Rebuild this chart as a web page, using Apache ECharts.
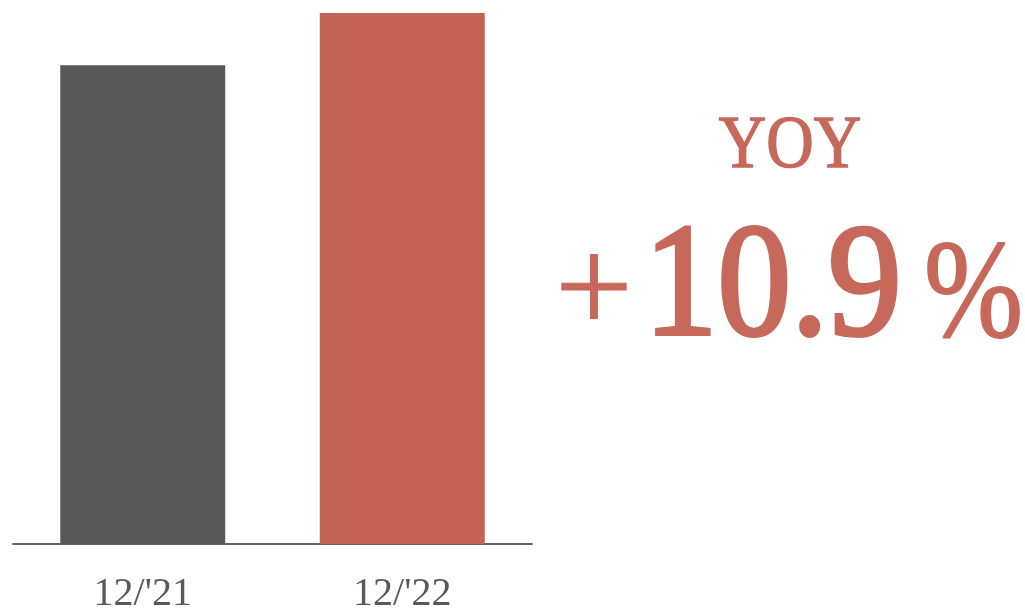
<!DOCTYPE html>
<html>
<head>
<meta charset="utf-8">
<script src="https://cdn.jsdelivr.net/npm/echarts@6/dist/echarts.min.js"></script>
<style>
html,body{margin:0;padding:0;background:#fff;}
#chart{width:1025px;height:608px;}
</style>
</head>
<body>
<div id="chart"></div>
<script>
const categories = ["12/'21", "12/'22"];
const values = [100, 110.9];
const barColors = ['#595959', '#c46455'];
const yoyLabel = 'YOY';
const yoySign = '+';
const yoyValue = '10.9';
const yoyUnit = '%';

const chart = echarts.init(document.getElementById('chart'), null, {renderer: 'canvas'});
const serif = '"Liberation Serif", "DejaVu Serif", serif';
const red = '#c6695b';
chart.setOption({
  animation: false,
  backgroundColor: '#ffffff',
  grid: {left: 13, right: 493, top: 13, bottom: 64, containLabel: false, outerBoundsMode: 'none'},
  xAxis: {
    type: 'category',
    data: categories,
    axisLine: {show: true, lineStyle: {color: '#666666', width: 2}},
    axisTick: {show: false},
    axisLabel: {color: '#595959', fontSize: 40, fontFamily: serif, margin: 30}
  },
  yAxis: {
    type: 'value', min: 0, max: values[1],
    show: false
  },
  series: [{
    type: 'bar',
    barWidth: 165,
    data: values.map((v, i) => ({value: v, itemStyle: {color: barColors[i]}}))
  }],
  graphic: [
    {type: 'text', x: 790, y: 111, scaleX: 0.9,
     style: {text: yoyLabel, font: '73px ' + serif, fill: red, stroke: red, lineWidth: 1.5, textAlign: 'center', textVerticalAlign: 'top'}},
    {type: 'text', x: 555, y: 227,
     style: {text: yoySign, font: '138px ' + serif, fill: red, stroke: red, lineWidth: 1, textAlign: 'left', textVerticalAlign: 'top'}},
    {type: 'text', x: 644, y: 212, scaleX: 0.92,
     style: {text: yoyValue, font: '160px ' + serif, fill: red, stroke: red, lineWidth: 4, textAlign: 'left', textVerticalAlign: 'top'}},
    {type: 'text', x: 924, y: 229, scaleX: 0.85,
     style: {text: yoyUnit, font: '140px ' + serif, fill: red, stroke: red, lineWidth: 2, textAlign: 'left', textVerticalAlign: 'top'}}
  ]
});
</script>
</body>
</html>
